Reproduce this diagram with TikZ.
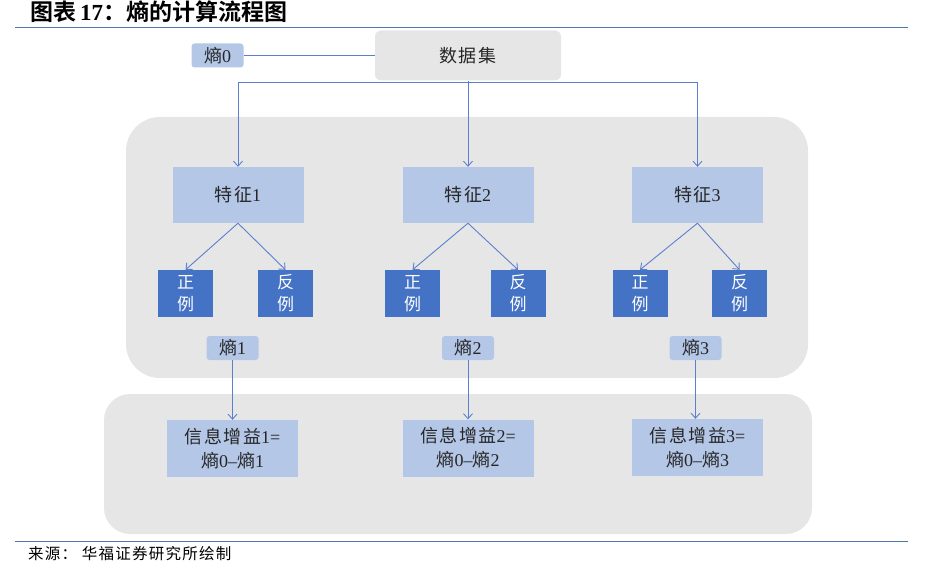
\documentclass[tikz,border=0pt]{standalone}
\usepackage{fontspec}
\setmainfont{Liberation Serif}
\newfontfamily\cjk{Noto Sans CJK SC}[LetterSpace=8]
\newfontfamily\cjkb{Noto Sans CJK SC}[BoldFont={* Bold}]
\usetikzlibrary{arrows.meta}
\definecolor{lblue}{HTML}{B4C7E7}
\definecolor{dblue}{HTML}{4472C4}
\definecolor{panel}{HTML}{E7E6E6}
\definecolor{conncol}{HTML}{5B7FD0}
\definecolor{rulecol}{HTML}{4F75B0}
\definecolor{txt}{HTML}{262626}
\newcommand{\zh}[1]{{\cjk #1}}
\tikzset{
  panelbox/.style={fill=panel, draw=none},
  topbox/.style={fill=panel, draw=none, rounded corners=6pt, minimum width=186pt, minimum height=50pt, font=\fontsize{18}{20}\selectfont, text=txt},
  featbox/.style={fill=lblue, draw=none, minimum width=131pt, minimum height=56pt, font=\fontsize{18}{20}\selectfont, text=txt},
  casebox/.style={fill=dblue, draw=none, minimum width=55pt, minimum height=47pt, inner sep=0pt, font=\fontsize{17}{22}\selectfont, text=white, align=center},
  entbox/.style={fill=lblue, draw=none, rounded corners=3pt, minimum width=52pt, minimum height=24pt, inner sep=0pt, font=\fontsize{18}{20}\selectfont, text=txt},
  gainbox/.style={fill=lblue, draw=none, minimum width=131pt, minimum height=57pt, inner sep=0pt, font=\fontsize{18}{24}\selectfont, text=txt, align=center},
  conn/.style={draw=conncol, line width=0.9pt},
  arr/.style={conn, -{Straight Barb[length=5pt,width=9pt]}},
}
\begin{document}
\begin{tikzpicture}[x=1pt,y=-1pt]
\useasboundingbox (0,0) rectangle (929,575);
% title and rules
\node[anchor=base west, inner sep=0pt, font=\fontsize{23}{25}\selectfont] (title) at (30,21)
  {{\cjkb\bfseries 图表}\,\textbf{17}{\cjkb\bfseries ：熵的计算流程图}};
\draw[rulecol, line width=1.2pt] (15,27.5) -- (908,27.5);
\draw[rulecol, line width=1.2pt] (15,541.5) -- (908,541.5);
\node[anchor=base west, inner sep=0pt, font=\fontsize{15.5}{18}\selectfont, text=black] (src) at (28,559)
  {{\cjk 来源：\ 华福证券研究所绘制}};
% panels
\fill[panelbox, rounded corners=34pt] (126,117) rectangle (808,378);
\fill[panelbox, rounded corners=26pt] (104,394) rectangle (812,534);
% top
\node[topbox] (ds) at (468,55.5) {\zh{数据集}};
\node[entbox] (e0) at (217.5,55.5) {\zh{熵}0};
\draw[conn] (e0.east) -- (ds.west);
% features
\node[featbox] (f1) at (238,195) {\zh{特征}1};
\node[featbox] (f2) at (468,195) {\zh{特征}2};
\node[featbox] (f3) at (697.5,195) {\zh{特征}3};
\coordinate (j) at (468,82);
\draw[conn] (ds.south) -- (j);
\draw[arr] (j) -| (f1.north);
\draw[arr] (j) -- (f2.north);
\draw[arr] (j) -| (f3.north);
% cases
\node[casebox] (p1) at (185.5,293.5) {\zh{正}\\\zh{例}};
\node[casebox] (n1) at (285.5,293.5) {\zh{反}\\\zh{例}};
\node[casebox] (p2) at (412.5,293.5) {\zh{正}\\\zh{例}};
\node[casebox] (n2) at (518,293.5) {\zh{反}\\\zh{例}};
\node[casebox] (p3) at (640,293.5) {\zh{正}\\\zh{例}};
\node[casebox] (n3) at (739.5,293.5) {\zh{反}\\\zh{例}};
\foreach \f/\p/\n in {f1/p1/n1, f2/p2/n2, f3/p3/n3}{
  \draw[arr] (\f.south) -- (\p.north);
  \draw[arr] (\f.south) -- (\n.north);
}
% entropies
\node[entbox] (e1) at (232.5,348) {\zh{熵}1};
\node[entbox] (e2) at (468,348) {\zh{熵}2};
\node[entbox] (e3) at (695.5,348) {\zh{熵}3};
% gains
\node[gainbox] (g1) at (232.5,448.5) {\zh{信息增益}1=\\\zh{熵}0\textendash\zh{熵}1};
\node[gainbox] (g2) at (468,448) {\zh{信息增益}2=\\\zh{熵}0\textendash\zh{熵}2};
\node[gainbox] (g3) at (697.5,447.5) {\zh{信息增益}3=\\\zh{熵}0\textendash\zh{熵}3};
\draw[arr] (e1.south) -- (g1.north);
\draw[arr] (e2.south) -- (g2.north);
\draw[arr] (e3.south) -- (e3.south |- g3.north);
\end{tikzpicture}
\end{document}
